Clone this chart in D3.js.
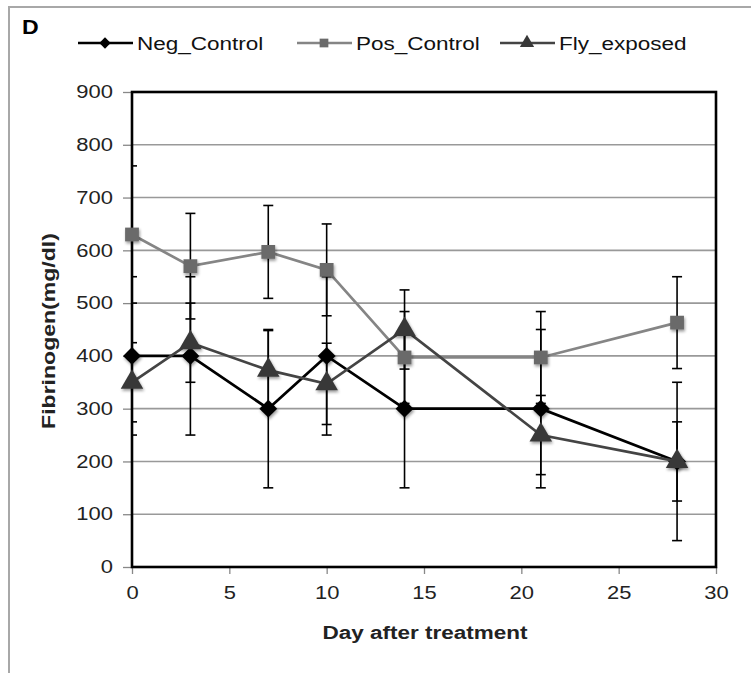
<!DOCTYPE html>
<html>
<head>
<meta charset="utf-8">
<script src="https://cdn.jsdelivr.net/npm/d3@7"></script>
<style>
  body { margin: 0; background: #fff; }
  svg { display: block; font-family: "Liberation Sans", Arial, sans-serif; }
</style>
</head>
<body>
<div id="chart"></div>
<script>
const days = [0, 3, 7, 10, 14, 21, 28]
const negControl = [400, 400, 300, 400, 300, 300, 200]
const negErr = [150, 150, 150, 150, 150, 150, 150]
const posControl = [630, 570, 597, 563, 397, 397, 463]
const posErr = [130, 100, 88, 87, 87, 87, 87]
const flyExposed = [350, 425, 373, 347, 450, 250, 200]
const flyErr = [75, 75, 75, 77, 75, 75, 75]
const xTicks = [0, 5, 10, 15, 20, 25, 30]
const yTicks = [0, 100, 200, 300, 400, 500, 600, 700, 800, 900]

const W = 751, H = 673
const m = { left: 132, right: 716, top: 92, bottom: 567 }

// the source picture is a little wider than the font, so stretch text
const stretch = (sel, k) => sel.each(function () {
  const L = this.getComputedTextLength()
  d3.select(this).attr('textLength', L * k).attr('lengthAdjust', 'spacingAndGlyphs')
})

const svg = d3.select('#chart').append('svg')
  .attr('width', W).attr('height', H)

// outer frame
svg.append('rect')
  .attr('x', 9).attr('y', 7)
  .attr('width', W + 20).attr('height', H + 20)
  .attr('fill', 'none').attr('stroke', '#a8a8a8').attr('stroke-width', 2)

const x = d3.scaleLinear().domain([0, 30]).range([m.left, m.right])
const y = d3.scaleLinear().domain([0, 900]).range([m.bottom, m.top])

// shadow for markers
const defs = svg.append('defs')
const f = defs.append('filter').attr('id', 'shadow').attr('x', '-60%').attr('y', '-60%').attr('width', '220%').attr('height', '220%')
f.append('feGaussianBlur').attr('in', 'SourceAlpha').attr('stdDeviation', 1.8)
f.append('feOffset').attr('dx', 1).attr('dy', 1.5).attr('result', 'b')
f.append('feComponentTransfer').append('feFuncA').attr('type', 'linear').attr('slope', 0.4)
const mg = f.append('feMerge')
mg.append('feMergeNode')
mg.append('feMergeNode').attr('in', 'SourceGraphic')

defs.append('clipPath').attr('id', 'plotclip').append('rect')
  .attr('x', m.left).attr('y', m.top - 10)
  .attr('width', m.right - m.left).attr('height', m.bottom - m.top + 20)

// gridlines
svg.append('g')
  .selectAll('line').data(yTicks.filter(d => d > 0 && d < 900)).join('line')
  .attr('x1', m.left).attr('x2', m.right)
  .attr('y1', d => y(d)).attr('y2', d => y(d))
  .attr('stroke', '#999').attr('stroke-width', 1.6)

// axes
const yAxis = svg.append('g')
  .attr('transform', `translate(${m.left},0)`)
  .call(d3.axisLeft(y).tickValues(yTicks).tickSize(9).tickPadding(10))
const xAxis = svg.append('g')
  .attr('transform', `translate(0,${m.bottom})`)
  .call(d3.axisBottom(x).tickValues(xTicks).tickSize(7).tickPadding(12))

;[yAxis, xAxis].forEach(a => {
  a.select('.domain').remove()
  a.selectAll('.tick line').attr('stroke', '#888').attr('stroke-width', 1.3)
  a.selectAll('.tick text')
    .attr('fill', '#222')
    .style('font-family', '"Liberation Sans", Arial, sans-serif')
    .style('font-size', '18px')
    .call(stretch, 1.22)
})

// plot frame
svg.append('rect')
  .attr('x', m.left).attr('y', m.top)
  .attr('width', m.right - m.left).attr('height', m.bottom - m.top)
  .attr('fill', 'none').attr('stroke', '#000').attr('stroke-width', 2.6)

const diamond = { draw: (ctx, size) => {
  const r = Math.sqrt(size / 2)
  ctx.moveTo(0, -r); ctx.lineTo(r, 0); ctx.lineTo(0, r); ctx.lineTo(-r, 0); ctx.closePath()
} }

const series = [
  { name: 'Neg_Control', vals: negControl, err: negErr, line: '#000', fill: '#000', shape: diamond, size: 160 },
  { name: 'Pos_Control', vals: posControl, err: posErr, line: '#858585', fill: '#6a6a6a', shape: d3.symbolSquare, size: 190 },
  { name: 'Fly_exposed', vals: flyExposed, err: flyErr, line: '#444', fill: '#383838', shape: d3.symbolTriangle, size: 220 }
]

// error bars
const eb = svg.append('g').attr('clip-path', 'url(#plotclip)')
series.forEach(s => {
  days.forEach((d, i) => {
    const cx = x(d), hi = y(s.vals[i] + s.err[i]), lo = y(s.vals[i] - s.err[i])
    eb.append('line').attr('x1', cx).attr('x2', cx).attr('y1', hi).attr('y2', lo)
      .attr('stroke', '#000').attr('stroke-width', 1.6)
    ;[hi, lo].forEach(yy => eb.append('line')
      .attr('x1', cx - 5).attr('x2', cx + 5).attr('y1', yy).attr('y2', yy)
      .attr('stroke', '#000').attr('stroke-width', 1.6))
  })
})

const line = d3.line().x(d => x(d[0])).y(d => y(d[1]))

series.forEach(s => {
  const pts = days.map((d, i) => [d, s.vals[i]])
  svg.append('path').datum(pts)
    .attr('d', line).attr('fill', 'none')
    .attr('stroke', s.line).attr('stroke-width', 2.7)
  svg.append('g').selectAll('path').data(pts).join('path')
    .attr('d', d3.symbol().type(s.shape).size(s.size))
    .attr('transform', d => `translate(${x(d[0])},${y(d[1])})`)
    .attr('fill', s.fill)
    .attr('filter', 'url(#shadow)')
})

// legend
const legX = [78, 297, 500]
series.forEach((s, i) => {
  const g = svg.append('g').attr('transform', `translate(${legX[i]},43)`)
  g.append('line').attr('x1', 0).attr('x2', 55).attr('y1', 0).attr('y2', 0)
    .attr('stroke', s.line).attr('stroke-width', 2.7)
  g.append('path').attr('d', d3.symbol().type(s.shape).size(s.size * 0.4))
    .attr('transform', 'translate(27,0)').attr('fill', s.fill)
  g.append('text').attr('x', 59).attr('y', 7)
    .style('font-size', '18px').attr('fill', '#111')
    .text(s.name)
    .call(stretch, 1.25)
})

// panel letter
svg.append('text').attr('x', 22).attr('y', 34)
  .style('font-size', '21px').style('font-weight', 'bold')
  .text('D')
  .call(stretch, 1.1)

// axis titles
svg.append('text')
  .attr('x', 425).attr('y', 639)
  .attr('text-anchor', 'middle')
  .style('font-size', '18px').style('font-weight', 'bold').attr('fill', '#222')
  .text('Day after treatment')
  .call(stretch, 1.25)

svg.append('text')
  .attr('transform', `translate(55,331) rotate(-90)`)
  .attr('text-anchor', 'middle')
  .style('font-size', '18px').style('font-weight', 'bold').attr('fill', '#222')
  .text('Fibrinogen(mg/dl)')
  .call(stretch, 1.28)
</script>
</body>
</html>
